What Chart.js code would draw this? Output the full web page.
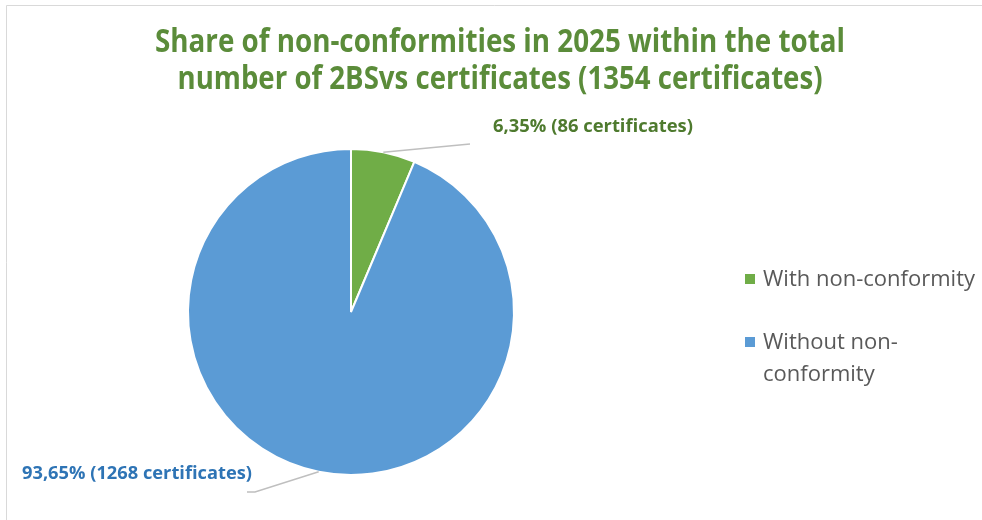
<!DOCTYPE html>
<html>
<head>
<meta charset="utf-8">
<script src="https://cdn.jsdelivr.net/npm/chart.js@4.4.1/dist/chart.umd.min.js"></script>
<style>
  html, body { margin: 0; padding: 0; background: #fff; }
  #wrap { width: 982px; height: 520px; position: relative; }
</style>
</head>
<body>
<div id="wrap"><canvas id="pie" width="982" height="520"></canvas></div>
<script>
// data
const categories = ['With non-conformity', 'Without non-conformity']
const certificates = [86, 1268]
const sliceColors = ['#70ad47', '#5b9bd5']
const labelColors = ['#4e7a2e', '#2e74b5']
const titleLines = ['Share of non-conformities in 2025 within the total', 'number of 2BSvs certificates (1354 certificates)']
const legendLines = [['With non-conformity'], ['Without non-', 'conformity']]

const FONT = '"Open Sans", "Noto Sans", sans-serif'

// draws text squeezed to a target width (the original uses a narrow font)
function fitText(ctx, text, x, y, width, align) {
    const w = ctx.measureText(text).width
    const sx = width / w
    ctx.save()
    let left = x
    if (align === 'center') left = x - width / 2
    ctx.translate(left, y)
    ctx.scale(sx, 1)
    ctx.textAlign = 'left'
    ctx.fillText(text, 0, 0)
    ctx.restore()
}

function pctLabel(i) {
    const total = certificates.reduce((a, b) => a + b, 0)
    const p = (certificates[i] / total * 100).toFixed(2).replace('.', ',')
    return p + '% (' + certificates[i] + ' certificates)'
}

const decorations = {
    id: 'decorations',
    beforeDraw(chart) {
        const ctx = chart.ctx
        ctx.save()
        ctx.fillStyle = '#fff'
        ctx.fillRect(0, 0, chart.width, chart.height)
        ctx.strokeStyle = '#d9d9d9'
        ctx.lineWidth = 1
        ctx.beginPath()
        ctx.moveTo(6.5, 520)
        ctx.lineTo(6.5, 5.5)
        ctx.lineTo(982, 5.5)
        ctx.stroke()
        ctx.restore()
    },
    afterDraw(chart) {
        const ctx = chart.ctx
        ctx.save()
        ctx.textBaseline = 'alphabetic'

        // title
        ctx.fillStyle = '#5b8c3a'
        ctx.font = 'bold 32px ' + FONT
        fitText(ctx, titleLines[0], 500, 52, 690, 'center')
        fitText(ctx, titleLines[1], 500, 89, 645, 'center')

        // data labels with leader lines
        const meta = chart.getDatasetMeta(0)
        const anchors = [
            { tx: 493, ty: 132, w: 200, line: [[470, 144]] },
            { tx: 22, ty: 479, w: 230, line: [[255, 492], [247, 492]] }
        ]
        meta.data.forEach((arc, i) => {
            const p = arc.getProps(['x', 'y', 'startAngle', 'endAngle', 'outerRadius'], true)
            const mid = (p.startAngle + p.endAngle) / 2
            const ex = p.x + Math.cos(mid) * p.outerRadius
            const ey = p.y + Math.sin(mid) * p.outerRadius
            ctx.strokeStyle = '#bfbfbf'
            ctx.lineWidth = 1.5
            ctx.beginPath()
            ctx.moveTo(ex, ey)
            anchors[i].line.forEach(pt => ctx.lineTo(pt[0], pt[1]))
            ctx.stroke()
            ctx.fillStyle = labelColors[i]
            ctx.font = 'bold 18px ' + FONT
            fitText(ctx, pctLabel(i), anchors[i].tx, anchors[i].ty, anchors[i].w, 'left')
        })

        // legend
        const legendY = [279, 342]
        ctx.font = '21px ' + FONT
        const sx = 212 / ctx.measureText(legendLines[0][0]).width
        legendLines.forEach((lines, i) => {
            ctx.fillStyle = sliceColors[i]
            ctx.fillRect(745, legendY[i] - 5, 10, 10)
            ctx.fillStyle = '#595959'
            lines.forEach((t, j) => {
                fitText(ctx, t, 763, legendY[i] + 7 + j * 32, ctx.measureText(t).width * sx, 'left')
            })
        })
        ctx.restore()
    }
}

new Chart(document.getElementById('pie'), {
    type: 'pie',
    data: {
        labels: categories,
        datasets: [{
            data: certificates,
            backgroundColor: sliceColors,
            borderColor: '#ffffff',
            borderWidth: 2,
        }]
    },
    options: {
        responsive: false,
        animation: false,
        layout: { padding: { left: 187, right: 467, top: 147, bottom: 43 } },
        plugins: {
            legend: { display: false },
            title: { display: false },
            tooltip: { enabled: false },
        }
    },
    plugins: [decorations]
})
</script>
</body>
</html>
